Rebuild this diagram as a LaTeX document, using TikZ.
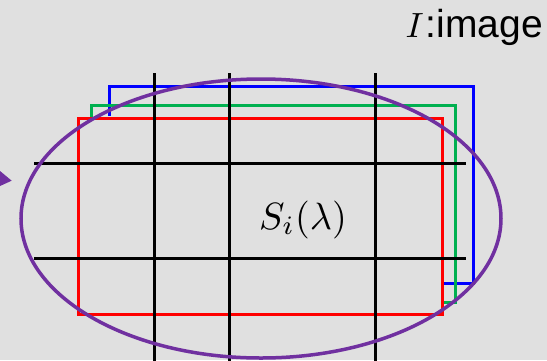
\documentclass[tikz,border=0pt]{standalone}
\usepackage{graphicx}
\usepackage{fontspec}
\setsansfont{Liberation Sans}
\definecolor{bgc}{RGB}{224,224,224}
\definecolor{pur}{RGB}{112,48,160}
\definecolor{rd}{RGB}{255,0,0}
\definecolor{gr}{RGB}{0,176,80}
\definecolor{bl}{RGB}{0,0,255}
\begin{document}
\begin{tikzpicture}[x=1pt,y=-1pt,
  frame/.style={line width=3pt,line join=miter},
  gridline/.style={line width=3pt,black}]
\fill[bgc] (0,0) rectangle (547,360);
\useasboundingbox (0,0) rectangle (547,360);
% stacked frames
\draw[frame,bl] (109,116) -- (109,86) -- (473,86) -- (473,283) -- (442,283);
\draw[frame,gr] (91,118) -- (91,105) -- (455,105) -- (455,302) -- (442,302);
\draw[frame,rd] (78.5,118) rectangle (442,314);
% grid
\foreach \x in {154,229.5,375} \draw[gridline] (\x,73) -- (\x,362);
\foreach \y in {163,258} \draw[gridline] (34,\y) -- (466,\y);
% label
\node[anchor=base,inner sep=0pt] (s) at (303,229) {\scalebox{3.8}{$S_i(\lambda)$}};
% ellipse
\draw[pur,line width=3.5pt] (261,218.5) ellipse [x radius=240,y radius=139.5];
% arrow tip
\fill[pur] (0,171) -- (11.7,180.7) -- (0,186) -- cycle;
% image text
\node[anchor=base east,inner sep=0pt] (t) at (543,37) {\scalebox{3.5}{$I$}\hspace{2pt}\fontsize{39}{42}\selectfont\sffamily:image};
\end{tikzpicture}
\end{document}
